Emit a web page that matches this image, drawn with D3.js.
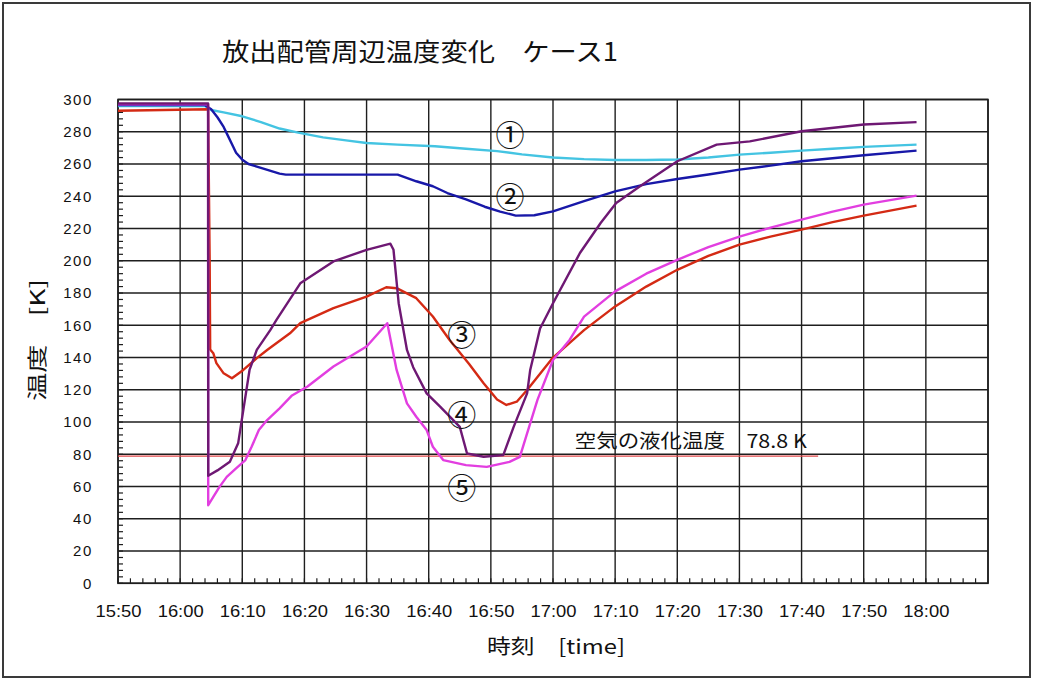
<!DOCTYPE html>
<html>
<head>
<meta charset="utf-8">
<script src="https://cdn.jsdelivr.net/npm/d3@7"></script>
<style>
  body { margin: 0; background: #fff; }
  text { font-family: "Liberation Sans", "DejaVu Sans", sans-serif; fill: #111; }
  .jp { font-family: "Noto Sans CJK JP", "Noto Sans", sans-serif; }
</style>
</head>
<body>
<svg id="chart" width="1040" height="681"></svg>
<script>
// ---- chart text ----
const chartTitle = "放出配管周辺温度変化　ケース1";
const yAxisTitle = "温度　[K]";
const xAxisTitle = "時刻　[time]";
const liquefactionLabel = "空気の液化温度　78.8 K";
const liquefactionTemp = 78.8;
const liquefactionEnd = "17:42:40";

// ---- axes ----
const timeStart = "15:50:00";
const timeEnd = "18:10:00";
const xTickLabels = ["15:50","16:00","16:10","16:20","16:30","16:40","16:50","17:00","17:10","17:20","17:30","17:40","17:50","18:00"];
const yTicks = [0,20,40,60,80,100,120,140,160,180,200,220,240,260,280,300];

// ---- measured temperatures [time, K] ----
const series1 = [ // ①
  ["15:50:00",296],["16:04:00",296],["16:05:00",293.5],["16:07:00",292],["16:10:00",289.6],
  ["16:13:00",286],["16:16:00",282],["16:19:00",279.5],["16:23:00",276.5],["16:27:00",274.5],
  ["16:30:00",273],["16:35:00",272],["16:41:00",271],["16:46:00",269.5],["16:51:00",268],
  ["16:55:00",266],["17:00:00",264],["17:05:00",263],["17:10:00",262.5],["17:15:00",262.5],
  ["17:20:00",262.8],["17:25:00",264],["17:30:00",265.8],["17:35:00",267],["17:40:00",268.3],
  ["17:45:00",269.5],["17:50:00",270.6],["17:58:30",272]
];
const series2 = [ // ②
  ["15:50:00",296.5],["16:04:00",296.5],["16:05:00",294],["16:06:00",289],["16:07:00",283],
  ["16:07:30",279],["16:08:30",271],["16:09:00",267],["16:10:00",262.7],["16:11:00",260],
  ["16:13:00",257.6],["16:16:00",254],["16:17:00",253.4],["16:25:00",253.4],["16:35:00",253.4],
  ["16:36:00",252],["16:38:00",249.3],["16:40:40",246.2],["16:43:00",242],["16:46:00",238],
  ["16:49:00",233.5],["16:51:30",230.5],["16:54:00",228],["16:57:00",228.2],["17:00:00",230.6],
  ["17:05:00",237],["17:10:00",243],["17:15:00",247.5],["17:20:00",250.7],["17:25:00",253.5],
  ["17:30:00",256.5],["17:35:00",259],["17:40:00",261.7],["17:45:00",263.6],["17:50:00",265.4],
  ["17:58:30",268.3]
];
const series3 = [ // ③
  ["15:50:00",293],["16:04:30",294],["16:04:45",200],["16:04:50",145],["16:05:20",142.7],
  ["16:05:50",136.5],["16:07:00",130.2],["16:08:20",127.1],["16:10:10",132.3],["16:12:20",139.6],
  ["16:14:00",144.7],["16:17:40",155],["16:19:20",161.3],["16:24:40",170.6],["16:30:00",177.8],
  ["16:33:10",183.6],["16:34:50",183],["16:38:00",176.8],["16:40:40",165.4],["16:43:20",151],
  ["16:46:30",136],["16:48:50",124],["16:51:00",114],["16:52:30",110.6],["16:54:10",112.6],
  ["16:55:50",119.9],["17:00:00",140],["17:05:00",157],["17:10:00",171.7],["17:15:00",184],
  ["17:20:00",194.4],["17:25:00",203],["17:30:00",210],["17:35:00",215],["17:40:00",219.3],
  ["17:45:00",224],["17:50:00",228],["17:58:30",234.2]
];
const series4 = [ // ④
  ["15:50:00",297.5],["16:04:30",297.5],["16:04:31",66.7],["16:06:00",70],["16:08:00",75.4],
  ["16:09:20",86.8],["16:09:50",99.2],["16:11:10",132.3],["16:12:20",144.7],["16:14:30",157],
  ["16:15:30",163.4],["16:19:20",186],["16:24:40",199.6],["16:30:00",206.8],["16:33:50",210.6],
  ["16:34:20",206.8],["16:35:10",173.7],["16:36:30",144.7],["16:37:30",134],["16:39:40",117.8],
  ["16:41:50",109.5],["16:45:00",97],["16:46:10",80.5],["16:48:50",78.5],["16:52:00",79.5],
  ["16:53:40",97],["16:55:50",117.8],["16:56:20",132.3],["16:57:55",158],["17:00:00",173.7],
  ["17:04:20",204.8],["17:07:40",223.4],["17:10:10",235.8],["17:14:00",246.2],["17:20:00",261.7],
  ["17:26:20",272],["17:31:40",274],["17:40:00",280.3],["17:50:00",284.5],["17:58:30",286]
];
const series5 = [ // ⑤
  ["15:50:00",297],["16:04:30",297],["16:04:31",48.4],["16:05:20",53.6],["16:06:20",59.8],
  ["16:07:30",66],["16:09:00",71.2],["16:10:30",76.4],["16:11:30",84.7],["16:12:40",95],
  ["16:14:00",101.2],["16:16:00",108.5],["16:18:00",116.5],["16:20:30",122],["16:24:40",134.4],
  ["16:30:00",146.8],["16:33:20",161.3],["16:34:50",132.3],["16:36:30",111.6],["16:38:00",103.3],
  ["16:39:40",95],["16:40:40",84.7],["16:42:20",76.4],["16:46:00",73.3],["16:49:20",72.2],
  ["16:53:00",75.3],["16:54:40",78.4],["16:55:50",93],["16:57:30",113.7],["17:00:00",138.5],
  ["17:02:40",150.9],["17:05:00",165.4],["17:10:00",181],["17:15:00",192],["17:20:00",200.6],
  ["17:25:00",208.5],["17:30:00",215],["17:35:00",220.5],["17:40:00",225.5],["17:45:00",230.5],
  ["17:50:00",234.8],["17:58:30",240.4]
];
const seriesNames = ["①","②","③","④","⑤"];
const seriesColors = ["#44c4e2","#1818a8","#d42a14","#6e1873","#e23ee0"];

// ---- layout ----
const svg = d3.select("#chart");
const W = 1040, H = 681;
const margin = { left: 118, right: 52, top: 99.5, bottom: 97.7 };
const parse = d3.timeParse("%H:%M:%S");
const parseHM = d3.timeParse("%H:%M");

const x = d3.scaleTime()
  .domain([parse(timeStart), parse(timeEnd)])
  .range([margin.left, W - margin.right]);
const y = d3.scaleLinear()
  .domain([0, 300])
  .range([H - margin.bottom, margin.top]);

// outer frame
svg.append("rect")
  .attr("x", 3).attr("y", 3).attr("width", W - 13).attr("height", H - 7)
  .attr("fill", "#fff").attr("stroke", "#3a3a3a").attr("stroke-width", 2);

// title
svg.append("text").attr("class", "jp")
  .attr("x", 222).attr("y", 61)
  .attr("font-size", 25)
  .attr("textLength", 396).attr("lengthAdjust", "spacingAndGlyphs")
  .text(chartTitle);

const plot = svg.append("g");
const x0 = x.range()[0], x1 = x.range()[1];
const y0 = y.range()[0], y1 = y.range()[1];

// grid
const xGridTimes = d3.timeMinute.every(10).range(parse(timeStart), d3.timeSecond.offset(parse(timeEnd), 1));
plot.selectAll(".vgrid").data(xGridTimes).join("line")
  .attr("x1", d => x(d)).attr("x2", d => x(d))
  .attr("y1", y1).attr("y2", y0)
  .attr("stroke", "#1e1e1e").attr("stroke-width", 1.4);
plot.selectAll(".hgrid").data(yTicks).join("line")
  .attr("x1", x0).attr("x2", x1)
  .attr("y1", d => y(d)).attr("y2", d => y(d))
  .attr("stroke", "#1e1e1e").attr("stroke-width", 1.4);

// minor ticks
const xMinor = d3.timeMinute.every(2).range(parse(timeStart), parse(timeEnd));
plot.selectAll(".xminor").data(xMinor).join("line")
  .attr("x1", d => x(d)).attr("x2", d => x(d))
  .attr("y1", y0).attr("y2", y0 - 5)
  .attr("stroke", "#1e1e1e").attr("stroke-width", 1.2);
const yMinor = d3.range(0, 300, 4);
plot.selectAll(".yminor").data(yMinor).join("line")
  .attr("x1", x0).attr("x2", x0 + 5)
  .attr("y1", d => y(d)).attr("y2", d => y(d))
  .attr("stroke", "#1e1e1e").attr("stroke-width", 1.2);

// plot frame
plot.append("rect")
  .attr("x", x0).attr("y", y1).attr("width", x1 - x0).attr("height", y0 - y1)
  .attr("fill", "none").attr("stroke", "#1e1e1e").attr("stroke-width", 1.6);

// liquefaction temperature of air
plot.append("line")
  .attr("x1", x0).attr("x2", x(parse(liquefactionEnd)))
  .attr("y1", y(liquefactionTemp)).attr("y2", y(liquefactionTemp))
  .attr("stroke", "#e0484a").attr("stroke-width", 1.3);
svg.append("text").attr("class", "jp")
  .attr("x", x(parse("17:03:30"))).attr("y", y(liquefactionTemp) - 8)
  .attr("font-size", 19)
  .attr("textLength", 232).attr("lengthAdjust", "spacingAndGlyphs")
  .text(liquefactionLabel);

// temperature curves (⑤ drawn before ④)
const curves = [
  { data: series1, color: seriesColors[0] },
  { data: series2, color: seriesColors[1] },
  { data: series3, color: seriesColors[2] },
  { data: series5, color: seriesColors[4] },
  { data: series4, color: seriesColors[3] }
];
const line = d3.line()
  .x(d => x(parse(d[0])))
  .y(d => y(d[1]));
plot.selectAll(".curve").data(curves).join("path")
  .attr("d", d => line(d.data))
  .attr("fill", "none")
  .attr("stroke", d => d.color)
  .attr("stroke-width", 2.4)
  .attr("stroke-linejoin", "round");

// curve labels
const curveLabels = [
  ["16:53:05", 279.3], ["16:53:05", 241], ["16:45:20", 155.3], ["16:45:20", 105.7], ["16:45:20", 60.4]
];
svg.selectAll(".clabel").data(curveLabels).join("text")
  .attr("class", "jp")
  .attr("x", d => x(parse(d[0]))).attr("y", d => y(d[1]))
  .attr("text-anchor", "middle").attr("dominant-baseline", "central")
  .attr("font-size", 29)
  .text((d, i) => seriesNames[i]);

// y-axis labels
const yAxis = d3.axisLeft(y).tickValues(yTicks).tickSize(0).tickPadding(0);
const gy = svg.append("g").attr("transform", `translate(${x0 - 25},0)`).call(yAxis);
gy.select(".domain").remove();
gy.selectAll("text")
  .attr("font-size", 15).attr("letter-spacing", 1.6)
  .attr("font-family", "Liberation Sans, sans-serif").attr("fill", "#111");

// x-axis labels
const day = parse(timeStart);
const xAxis = d3.axisBottom(x)
  .tickValues(xTickLabels.map(s => {
    const t = parseHM(s);
    return new Date(day.getFullYear(), day.getMonth(), day.getDate(), t.getHours(), t.getMinutes());
  }))
  .tickFormat((d, i) => xTickLabels[i])
  .tickSize(0).tickPadding(0);
const gx = svg.append("g").attr("transform", `translate(0,${y0 + 22})`).call(xAxis);
gx.select(".domain").remove();
gx.selectAll("text")
  .attr("font-size", 17)
  .attr("textLength", 46).attr("lengthAdjust", "spacingAndGlyphs")
  .attr("font-family", "Liberation Sans, sans-serif").attr("fill", "#111");

// axis titles
svg.append("text").attr("class", "jp")
  .attr("x", 487).attr("y", 654)
  .attr("font-size", 20)
  .attr("textLength", 138).attr("lengthAdjust", "spacingAndGlyphs")
  .text(xAxisTitle);
svg.append("text").attr("class", "jp")
  .attr("transform", "translate(45,401) rotate(-90)")
  .attr("font-size", 20)
  .attr("textLength", 122).attr("lengthAdjust", "spacingAndGlyphs")
  .text(yAxisTitle);
</script>
</body>
</html>
